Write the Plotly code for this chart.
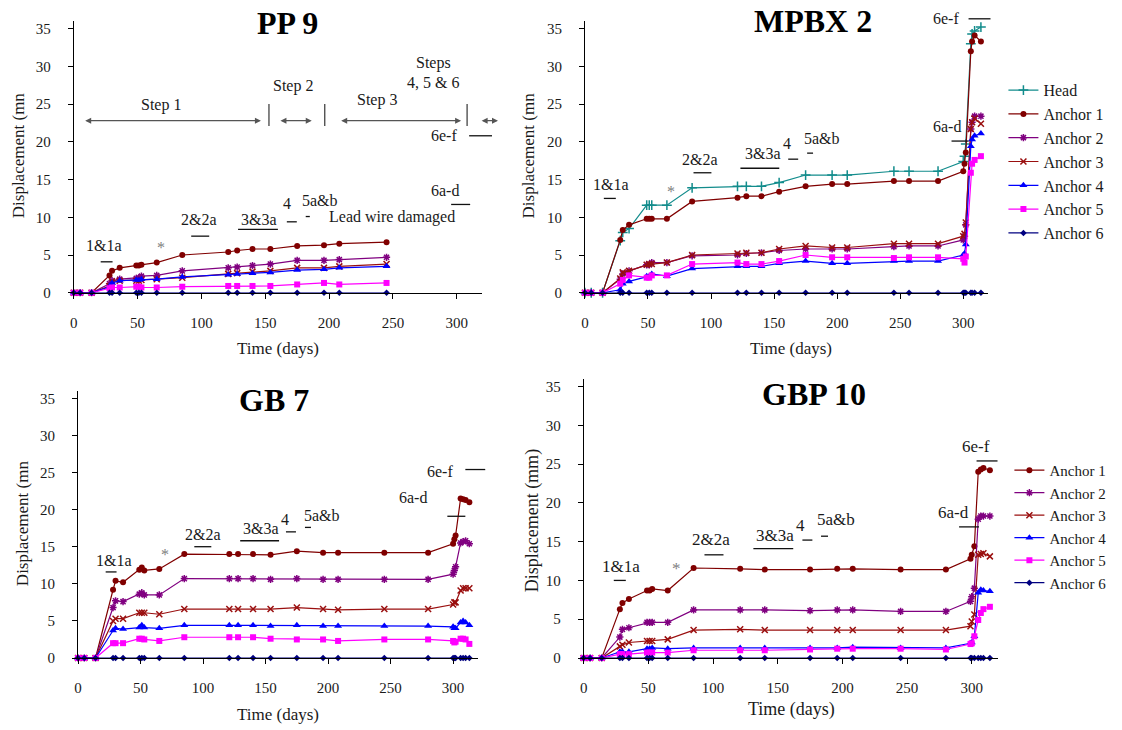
import plotly.graph_objects as go

FONT = "Liberation Serif, Times New Roman, serif"
W, H = 1122, 730

# ---------------------------------------------------------------- data
# Time (days) and displacement (mm) of each extensometer
PP9_DAYS = [0, 5, 14, 28, 30, 36, 49, 51, 53, 65, 85, 121, 128, 140, 154, 175, 196, 208, 245]
PP9_A1 = [0, 0, 0, 2.3, 2.9, 3.3, 3.6, 3.6, 3.7, 4.0, 5.0, 5.4, 5.6, 5.8, 5.8, 6.2, 6.3, 6.5, 6.7]
PP9_A2 = [0, 0, 0, 1.2, 1.6, 1.8, 1.9, 2.0, 2.2, 2.3, 2.9, 3.3, 3.4, 3.6, 3.8, 4.3, 4.3, 4.4, 4.7]
PP9_A3 = [0, 0, 0, 0.9, 1.5, 1.6, 1.6, 1.6, 1.7, 1.8, 2.0, 2.5, 2.6, 2.8, 2.9, 3.3, 3.3, 3.5, 3.8]
PP9_A4 = [0, 0, 0, 0.8, 1.3, 1.6, 1.7, 1.7, 1.8, 1.8, 2.1, 2.4, 2.5, 2.6, 2.7, 3.0, 3.1, 3.3, 3.5]
PP9_A5 = [0, 0, 0, 0.6, 0.7, 0.7, 0.8, 0.8, 0.7, 0.7, 0.8, 0.9, 0.9, 0.9, 0.9, 1.1, 1.3, 1.1, 1.3]
PP9_A6 = [0, 0, 0, 0, 0, 0, 0, 0, 0, 0, 0, 0, 0, 0, 0, 0, 0, 0, 0]

MPBX2_DAYS = [0, 5, 14, 28, 30, 35, 49, 51, 53, 65, 85, 121, 128, 140, 154, 175, 196, 208,
              245, 257, 280, 300, 301, 302, 306, 307, 309, 314]
MPBX2_HEAD = [0, 0, 0, 6.9, 8.0, 8.5, 11.6, 11.6, 11.6, 11.6, 13.9, 14.1, 14.1, 14.1, 14.6, 15.6,
              15.6, 15.6, 16.1, 16.1, 16.1, 17.4, 18.1, 19.7, 33.0, 34.3, 34.7, 35.2]
MPBX2_A1 = [0, 0, 0, 7.0, 8.3, 9.0, 9.8, 9.8, 9.8, 9.8, 12.1, 12.6, 12.8, 12.8, 13.4, 14.1,
            14.4, 14.4, 14.8, 14.8, 14.8, 16.1, 17.1, 18.6, 32.0, 33.3, 34.1, 33.3]
MPBX2_A2 = [0, 0, 0, 1.8, 2.5, 2.9, 3.7, 3.7, 4.0, 4.0, 4.9, 5.0, 5.2, 5.3, 5.6, 5.8,
            5.8, 5.8, 6.1, 6.2, 6.2, 7.0, 7.5, 9.0, 21.7, 22.6, 23.4, 23.4]
MPBX2_A3 = [0, 0, 0, 1.9, 2.7, 2.9, 3.7, 3.8, 3.8, 4.0, 5.0, 5.2, 5.3, 5.3, 5.8, 6.2,
            6.0, 6.0, 6.5, 6.5, 6.5, 7.5, 7.8, 9.3, 21.7, 22.6, 23.1, 22.4]
MPBX2_A4 = [0, 0, 0, 0.4, 1.2, 1.5, 2.2, 2.2, 2.5, 2.2, 3.2, 3.5, 3.5, 3.5, 3.9, 4.2,
            3.9, 3.9, 4.2, 4.2, 4.2, 5.0, 5.2, 6.4, 19.4, 20.3, 20.8, 21.1]
MPBX2_A5 = [0, 0, 0, 1.2, 1.7, 2.3, 2.0, 2.0, 2.3, 2.3, 3.8, 4.0, 3.8, 3.8, 4.2, 5.0,
            4.7, 4.7, 4.6, 4.7, 4.7, 4.5, 4.0, 4.8, 15.9, 17.1, 17.6, 18.1]
MPBX2_A6 = [0] * 28

GB7_DAYS = [0, 5, 14, 28, 30, 36, 49, 51, 53, 65, 85, 121, 128, 140, 154, 175, 196, 208,
            245, 280, 300, 301, 302, 306, 308, 310, 313]
GB7_A1 = [0, 0, 0, 9.2, 10.4, 10.2, 11.9, 12.2, 11.8, 12.0, 14.0, 14.0, 14.0, 14.0, 13.9, 14.4,
          14.2, 14.2, 14.2, 14.2, 15.4, 16.0, 16.5, 21.5, 21.4, 21.3, 21.0]
GB7_A2 = [0, 0, 0, 6.8, 7.7, 7.6, 8.6, 8.8, 8.5, 8.5, 10.7, 10.7, 10.7, 10.7, 10.6, 10.7,
          10.6, 10.6, 10.6, 10.6, 11.3, 11.8, 12.3, 15.5, 15.7, 15.8, 15.4]
GB7_A3 = [0, 0, 0, 5.0, 5.3, 5.3, 6.1, 6.1, 6.1, 5.9, 6.6, 6.6, 6.6, 6.6, 6.6, 6.8,
          6.6, 6.5, 6.6, 6.6, 7.2, 7.5, 7.5, 9.1, 9.4, 9.4, 9.4]
GB7_A4 = [0, 0, 0, 3.7, 4.0, 3.9, 4.1, 4.4, 4.1, 4.0, 4.4, 4.4, 4.4, 4.4, 4.3, 4.4,
          4.3, 4.3, 4.3, 4.3, 4.2, 4.0, 4.0, 4.8, 5.0, 4.8, 4.4]
GB7_A5 = [0, 0, 0, 2.0, 2.0, 2.0, 2.6, 2.6, 2.5, 2.3, 2.8, 2.8, 2.8, 2.8, 2.6, 2.5,
          2.5, 2.3, 2.5, 2.5, 2.3, 2.1, 2.2, 2.6, 2.6, 2.5, 1.9]
GB7_A6 = [0] * 27

GBP10_DAYS = [0, 5, 14, 28, 30, 35, 49, 51, 53, 65, 85, 121, 140, 175, 196, 208,
              245, 280, 299, 300, 302, 305, 307, 309, 314]
GBP10_A1 = [0, 0, 0, 6.3, 7.1, 7.6, 8.7, 8.7, 8.9, 8.7, 11.6, 11.5, 11.4, 11.4, 11.5, 11.5,
            11.4, 11.4, 12.8, 13.3, 14.4, 24.0, 24.3, 24.5, 24.2]
GBP10_A2 = [0, 0, 0, 2.7, 3.7, 3.9, 4.6, 4.6, 4.6, 4.6, 6.2, 6.2, 6.2, 6.1, 6.2, 6.2,
            6.0, 6.0, 7.3, 7.9, 9.0, 17.9, 18.3, 18.3, 18.3]
GBP10_A3 = [0, 0, 0, 1.5, 1.7, 2.0, 2.2, 2.2, 2.2, 2.4, 3.6, 3.7, 3.6, 3.6, 3.6, 3.6,
            3.6, 3.6, 4.1, 4.7, 5.6, 13.3, 13.4, 13.5, 13.1]
GBP10_A4 = [0, 0, 0, 0.8, 0.8, 0.8, 1.2, 1.2, 1.3, 1.2, 1.3, 1.3, 1.3, 1.3, 1.3, 1.4,
            1.3, 1.3, 1.9, 2.0, 2.8, 8.4, 8.8, 8.7, 8.6]
GBP10_A5 = [0, 0, 0, 0.5, 0.5, 0.5, 0.7, 0.7, 0.7, 0.7, 1.0, 1.0, 1.0, 1.1, 1.2, 1.2,
            1.2, 1.1, 1.8, 1.9, 2.8, 4.9, 5.8, 6.3, 6.6]
GBP10_A6 = [0] * 25

X_TICKS = [0, 50, 100, 150, 200, 250, 300]
Y_TICKS = [0, 5, 10, 15, 20, 25, 30, 35]
X_RANGE = [0, 320]
Y_RANGE = [0, 36]

# ---------------------------------------------------------------- styles
STYLE = {
    "Head": dict(color="#128c8c", symbol="cross-thin-open", size=7),
    "Anchor 1": dict(color="#800000", symbol="circle", size=6),
    "Anchor 2": dict(color="#800080", symbol="asterisk-open", size=6),
    "Anchor 3": dict(color="#9a0f0f", symbol="x-thin-open", size=6),
    "Anchor 4": dict(color="#0000ff", symbol="triangle-up", size=7),
    "Anchor 5": dict(color="#ff00ff", symbol="square", size=6),
    "Anchor 6": dict(color="#000080", symbol="diamond", size=5),
}

# panel frame in pixels: left/right = day 0/320, bottom/top = 0/36 mm
PANELS = [
    dict(sfx="", left=70, right=480, bottom=296, top=21.3, title="PP 9", tpos=(285, 23),
         ytitle="Displacement (mn", ypos=(14, 157), xpos=(275, 352), fs=16),
    dict(sfx="2", left=583, right=988, bottom=296, top=21.3, title="MPBX 2", tpos=(812, 21),
         ytitle="Displacement (mn", ypos=(526, 157), xpos=(790, 352), fs=16),
    dict(sfx="3", left=74.3, right=475.8, bottom=665.3, top=395.2, title="GB 7", tpos=(271, 404),
         ytitle="Displacement (mn", ypos=(18, 529), xpos=(275, 722), fs=16),
    dict(sfx="4", left=581.7, right=997.2, bottom=665.3, top=382.9, title="GBP 10", tpos=(813, 398),
         ytitle="Displacement (mm)", ypos=(530, 527), xpos=(790, 717), fs=17),
]

SERIES = [
    ("", PP9_DAYS, [("Anchor 1", PP9_A1), ("Anchor 2", PP9_A2), ("Anchor 3", PP9_A3),
                    ("Anchor 4", PP9_A4), ("Anchor 5", PP9_A5), ("Anchor 6", PP9_A6)], None),
    ("2", MPBX2_DAYS, [("Head", MPBX2_HEAD), ("Anchor 1", MPBX2_A1), ("Anchor 2", MPBX2_A2),
                       ("Anchor 3", MPBX2_A3), ("Anchor 4", MPBX2_A4), ("Anchor 5", MPBX2_A5),
                       ("Anchor 6", MPBX2_A6)], "legend"),
    ("3", GB7_DAYS, [("Anchor 1", GB7_A1), ("Anchor 2", GB7_A2), ("Anchor 3", GB7_A3),
                     ("Anchor 4", GB7_A4), ("Anchor 5", GB7_A5), ("Anchor 6", GB7_A6)], None),
    ("4", GBP10_DAYS, [("Anchor 1", GBP10_A1), ("Anchor 2", GBP10_A2), ("Anchor 3", GBP10_A3),
                       ("Anchor 4", GBP10_A4), ("Anchor 5", GBP10_A5), ("Anchor 6", GBP10_A6)], "legend2"),
]

# construction-stage labels (text, day, mm) and their time-span bars (day0, day1, mm)
STAGE_LABELS = {
    "": [("1&1a", 23.4, 6.2), ("2&2a", 98.3, 9.7), ("3&3a", 145.1, 9.7), ("4", 166.9, 11.8),
         ("5a&b", 192.7, 12.2), ("Lead wire damaged", 249.3, 10.1), ("6a-d", 291, 13.6),
         ("6e-f", 290.2, 20.8), ("Step 1", 68.6, 24.9), ("Step 2", 171.6, 27.4),
         ("Step 3", 237.9, 25.6), ("Steps", 281.6, 30.4), ("4, 5 & 6", 281.6, 27.9)],
    "2": [("1&1a", 20.5, 14.3), ("2&2a", 91.6, 17.7), ("3&3a", 141.4, 18.5), ("4", 160.4, 19.8),
          ("5a&b", 188, 20.4), ("6a-d", 286.8, 22.0), ("6e-f", 286, 36.3)],
    "3": [("1&1a", 28.5, 13.2), ("2&2a", 100.2, 16.7), ("3&3a", 146.4, 17.5), ("4", 165.5, 18.7),
          ("5a&b", 195, 19.2), ("6a-d", 267.6, 21.6), ("6e-f", 289.9, 25.2)],
    "4": [("1&1a", 28.7, 11.8), ("2&2a", 98.8, 15.3), ("3&3a", 148.1, 15.8), ("4", 167.4, 17.1),
          ("5a&b", 195.1, 17.8), ("6a-d", 286, 18.7), ("6e-f", 302.9, 27.3)],
}
STAR = {"": (68.6, 6.0), "2": (67.9, 13.4), "3": (69.9, 14.0), "4": (71.9, 11.6)}
STAGE_BARS = {
    "": [(21.1, 30.4, 4.1), (92, 106.1, 7.5), (128.7, 159.9, 8.4), (166.9, 174.7, 9.4),
         (181.7, 184.9, 10.1), (295.6, 310.5, 11.7), (309.7, 327.6, 20.8)],
    "2": [(15, 24.5, 12.5), (86.1, 100.3, 15.9), (123.3, 154.1, 16.5), (161.2, 169.1, 17.7),
          (176.2, 180.9, 18.5), (290.7, 304.2, 20.1), (304.2, 321.6, 36.3)],
    "3": [(22.1, 30.8, 11.6), (93, 106.6, 15.0), (129.7, 160.8, 15.8), (166.3, 174.3, 17.0),
          (181.5, 186.3, 17.6), (295.4, 309.8, 19.1), (309.8, 325.7, 25.4)],
    "4": [(23.3, 32.6, 10.0), (93.4, 108.1, 13.3), (131.2, 162, 14.1), (169.1, 176.8, 15.2),
          (183.5, 188.9, 15.7), (290.2, 305.6, 16.9), (303.7, 319.9, 25.4)],
}
# PP 9 excavation steps: arrows (day0, day1) and dividers (day)
STEP_ARROWS = [(7.8, 146.6), (160.7, 186.4), (208.3, 303.4), (318.3, 332.3)]
STEP_DIVIDERS = [152.9, 196.6, 308.1]
STEP_ARROW_MM = 22.8
STEP_DIVIDER_MM = (22.1, 25.0)


def paper(px, py):
    return px / W, 1 - py / H


def dom_x(d):
    return (d - X_RANGE[0]) / (X_RANGE[1] - X_RANGE[0])


def dom_y(mm):
    return (mm - Y_RANGE[0]) / (Y_RANGE[1] - Y_RANGE[0])


fig = go.Figure()

# ---------------------------------------------------------------- traces
for sfx, days, series, legend in SERIES:
    for name, vals in series:
        st = STYLE[name]
        open_sym = st["symbol"].endswith("open")
        fig.add_trace(go.Scatter(
            x=days, y=vals, name=name, mode="lines+markers",
            xaxis="x" + sfx, yaxis="y" + sfx,
            line=dict(color=st["color"], width=1.2),
            marker=dict(symbol=st["symbol"], size=st["size"], color=st["color"],
                        line=dict(color=st["color"], width=1.5 if open_sym else 0)),
            cliponaxis=False,
            showlegend=legend is not None,
            legend=legend if legend else "legend",
        ))

# ---------------------------------------------------------------- axes
axis_common = dict(showline=True, linecolor="#000", linewidth=1, showgrid=False,
                   zeroline=False, ticks="outside", ticklen=5, tickcolor="#000",
                   tickfont=dict(family=FONT, size=15, color="#1a1a1a"))
annotations = []
shapes = []
for p in PANELS:
    s = p["sfx"]
    x0, _ = paper(p["left"], 0)
    x1, _ = paper(p["right"], 0)
    _, y0 = paper(0, p["bottom"])
    _, y1 = paper(0, p["top"])
    fig.layout["xaxis" + s] = dict(axis_common, domain=[x0, x1], range=X_RANGE,
                                   tickvals=X_TICKS, anchor="y" + s, ticklabelstandoff=11)
    fig.layout["yaxis" + s] = dict(axis_common, domain=[y0, y1], range=Y_RANGE,
                                   tickvals=Y_TICKS, anchor="x" + s, ticklabelstandoff=14)

    tx, ty = paper(*p["tpos"])
    annotations.append(dict(text="<b>" + p["title"] + "</b>", x=tx, y=ty, xref="paper", yref="paper",
                            showarrow=False, xanchor="center", yanchor="middle",
                            font=dict(family=FONT, size=32, color="#000")))
    yx, yy = paper(*p["ypos"])
    annotations.append(dict(text=p["ytitle"], x=yx, y=yy, xref="paper", yref="paper",
                            showarrow=False, textangle=-90, xanchor="center", yanchor="middle",
                            font=dict(family=FONT, size=p["fs"] + 1, color="#1a1a1a")))
    xx, xy = paper(*p["xpos"])
    annotations.append(dict(text="Time (days)", x=xx, y=xy, xref="paper", yref="paper",
                            showarrow=False, xanchor="center", yanchor="middle",
                            font=dict(family=FONT, size=p["fs"] + 1, color="#1a1a1a")))

    xd, yd = "x" + s + " domain", "y" + s + " domain"
    for text, d, mm in STAGE_LABELS[s]:
        annotations.append(dict(text=text, x=dom_x(d), y=dom_y(mm), xref=xd, yref=yd,
                                showarrow=False, xanchor="center", yanchor="middle",
                                font=dict(family=FONT, size=p["fs"], color="#1a1a1a")))
    sd, smm = STAR[s]
    annotations.append(dict(text="*", x=dom_x(sd), y=dom_y(smm), xref=xd, yref=yd, showarrow=False,
                            xanchor="center", yanchor="middle",
                            font=dict(family=FONT, size=p["fs"], color="#808080")))

    for d0, d1, mm in STAGE_BARS[s]:
        shapes.append(dict(type="line", xref=xd, yref=yd,
                           x0=dom_x(d0), x1=dom_x(d1), y0=dom_y(mm), y1=dom_y(mm),
                           line=dict(color="#111", width=1.3)))

# PP 9 step arrows and dividers
for d0, d1 in STEP_ARROWS:
    annotations.append(dict(text="", x=dom_x(d1), y=dom_y(STEP_ARROW_MM),
                            ax=dom_x(d0), ay=dom_y(STEP_ARROW_MM),
                            xref="x domain", yref="y domain", axref="x domain", ayref="y domain",
                            showarrow=True, arrowside="end+start", arrowhead=2, arrowsize=1,
                            arrowwidth=1.2, arrowcolor="#555", standoff=0, startstandoff=0))
for d in STEP_DIVIDERS:
    shapes.append(dict(type="line", xref="x domain", yref="y domain",
                       x0=dom_x(d), x1=dom_x(d),
                       y0=dom_y(STEP_DIVIDER_MM[0]), y1=dom_y(STEP_DIVIDER_MM[1]),
                       line=dict(color="#444", width=1.3)))

lx1, ly1 = paper(1003, 74)
lx2, ly2 = paper(1009, 459)
fig.update_layout(
    width=W, height=H,
    margin=dict(l=0, r=0, t=0, b=0),
    font=dict(family=FONT, size=15, color="#1a1a1a"),
    paper_bgcolor="#fff", plot_bgcolor="#fff",
    annotations=annotations, shapes=shapes,
    legend=dict(x=lx1, y=ly1, xanchor="left", yanchor="top", bgcolor="rgba(0,0,0,0)",
                font=dict(family=FONT, size=16, color="#1a1a1a")),
    legend2=dict(x=lx2, y=ly2, xanchor="left", yanchor="top", bgcolor="rgba(0,0,0,0)",
                 font=dict(family=FONT, size=15, color="#1a1a1a")),
)

fig.write_html("out.html")
